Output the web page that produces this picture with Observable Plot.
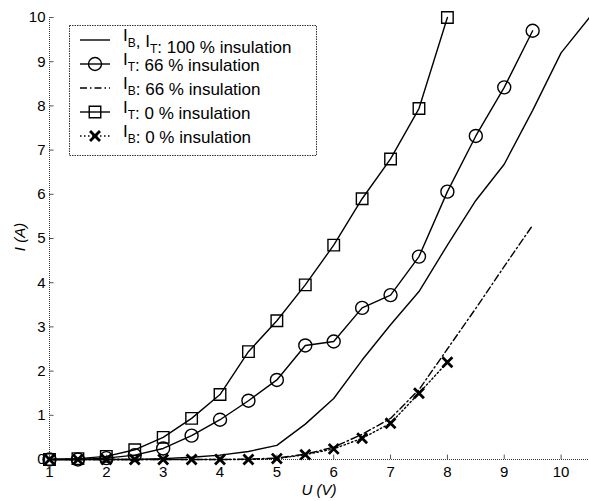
<!DOCTYPE html>
<html><head><meta charset="utf-8">
<script src="https://cdn.jsdelivr.net/npm/d3@7"></script>
<script src="https://cdn.jsdelivr.net/npm/@observablehq/plot@0.6"></script>
<style>
body{margin:0;background:#fff;}
#chart{width:589px;height:501px;}
svg{font-family:"Liberation Sans",Arial,Helvetica,sans-serif;}
</style></head><body><div id="chart"></div>
<script>
// ---- data ----
const u100 = [1,1.5,2,2.5,3,3.5,4,4.5,5,5.5,6,6.5,7,7.5,8,8.5,9,9.5,10,10.5];
const iBT100 = [0,0,0,0,0.02,0.05,0.1,0.18,0.32,0.8,1.38,2.25,3.05,3.8,4.85,5.86,6.68,7.9,9.2,10.0];
const u66 = [1,1.5,2,2.5,3,3.5,4,4.5,5,5.5,6,6.5,7,7.5,8,8.5,9,9.5];
const iT66 = [0,0,0.03,0.1,0.25,0.54,0.9,1.33,1.8,2.58,2.67,3.43,3.72,4.59,6.06,7.32,8.42,9.7];
const iB66 = [0,0,0,0,0,0,0,0.01,0.03,0.12,0.28,0.57,0.93,1.58,2.5,3.42,4.37,5.3];
const u0 = [1,1.5,2,2.5,3,3.5,4,4.5,5,5.5,6,6.5,7,7.5,8];
const iT0 = [0,0.02,0.07,0.22,0.5,0.93,1.47,2.44,3.14,3.95,4.85,5.9,6.8,7.94,10.0];
const iB0 = [0,0,0,0,0,0,0,0,0.02,0.11,0.24,0.48,0.82,1.5,2.2];
const xTicks = [1,2,3,4,5,6,7,8,9,10];
const yTicks = [0,1,2,3,4,5,6,7,8,9,10];
const xLabel = "U (V)";
const yLabel = "I (A)";
const legendItems = [
  {parts:[["I","B"],[", I","T"]], rest:": 100 % insulation", kind:"solid"},
  {parts:[["I","T"]], rest:": 66 % insulation", kind:"circle"},
  {parts:[["I","B"]], rest:": 66 % insulation", kind:"dashdot"},
  {parts:[["I","T"]], rest:": 0 % insulation", kind:"square"},
  {parts:[["I","B"]], rest:": 0 % insulation", kind:"times"}
];

const rows = (u, v) => u.map((x, k) => ({u: x, i: v[k]}));
const d100 = rows(u100, iBT100), dT66 = rows(u66, iT66), dB66 = rows(u66, iB66),
      dT0 = rows(u0, iT0), dB0 = rows(u0, iB0);

const R = 6.5, RX = 4.6;
const DASHDOT = "7,3,1.5,3", DOT = "1.5,2.5";
const plot = Plot.plot({
  width: 589, height: 501,
  marginLeft: 49, marginRight: 0, marginTop: 17, marginBottom: 42,
  style: {fontFamily: '"Liberation Sans",Arial,Helvetica,sans-serif', fontSize: "15px", color: "#000", background: "#fff", overflow: "visible"},
  x: {domain: [1, 10.5]},
  y: {domain: [0, 10]},
  marks: [
    Plot.ruleX([1], {stroke: "#333", strokeDasharray: "1,1"}),
    Plot.ruleY([0], {stroke: "#333", strokeDasharray: "1,1"}),
    Plot.ruleX(xTicks, {x: d => d, y1: 0, y2: 0.1, stroke: "#555"}),
    Plot.ruleY(yTicks, {y: d => d, x1: 1, x2: 1.08, stroke: "#555"}),
    Plot.axisX(xTicks, {tickSize: 0, tickPadding: 7, label: null, tickFormat: d => String(d)}),
    Plot.axisY(yTicks, {tickSize: 0, tickPadding: 4, label: null, tickFormat: d => String(d)}),
    Plot.line(d100, {x: "u", y: "i", stroke: "#000", strokeWidth: 1.4}),
    Plot.line(dB66, {x: "u", y: "i", stroke: "#000", strokeWidth: 1.4, strokeDasharray: DASHDOT}),
    Plot.line(dB0, {x: "u", y: "i", stroke: "#000", strokeWidth: 1.4, strokeDasharray: DOT}),
    Plot.line(dT66, {x: "u", y: "i", stroke: "#000", strokeWidth: 1.4}),
    Plot.line(dT0, {x: "u", y: "i", stroke: "#000", strokeWidth: 1.4}),
    Plot.dot(dT66, {x: "u", y: "i", r: R, symbol: "circle", stroke: "#000", strokeWidth: 1.4, fill: "none"}),
    Plot.dot(dT0, {x: "u", y: "i", r: R, symbol: "square", stroke: "#000", strokeWidth: 1.4, fill: "none"}),
    Plot.dot(dB0, {x: "u", y: "i", r: RX, symbol: "times", stroke: "#000", strokeWidth: 2.8})
  ]
});
document.getElementById("chart").appendChild(plot);

const svg = d3.select(plot);
// axis labels
svg.append("text").attr("x", 319).attr("y", 495).attr("text-anchor", "middle")
  .attr("font-style", "italic").attr("font-size", 15).text(xLabel);
svg.append("text").attr("transform", "translate(25,237) rotate(-90)").attr("text-anchor", "middle")
  .attr("font-style", "italic").attr("font-size", 15).text(yLabel);

// legend
const lg = svg.append("g").attr("text-anchor", "start");
lg.append("rect").attr("x", 69.5).attr("y", 25.5).attr("width", 247).attr("height", 130)
  .attr("fill", "#fff").attr("stroke", "#333").attr("stroke-dasharray", "1.5,1");
const rowY = [41, 65, 89, 113, 137];
legendItems.forEach((it, k) => {
  const y = rowY[k];
  const ly = y - 1;
  const line = lg.append("line").attr("x1", 80).attr("x2", 110).attr("y1", ly).attr("y2", ly)
    .attr("stroke", "#000").attr("stroke-width", 1.4);
  if (it.kind === "dashdot") line.attr("stroke-dasharray", DASHDOT);
  if (it.kind === "times") line.attr("stroke-dasharray", DOT);
  if (it.kind === "circle" || it.kind === "square" || it.kind === "times") {
    const t = it.kind === "circle" ? d3.symbolCircle : it.kind === "square" ? d3.symbolSquare : d3.symbolTimes;
    const rr = it.kind === "times" ? RX : R;
    lg.append("path").attr("d", d3.symbol(t, Math.PI * rr * rr)()).attr("transform", `translate(95,${ly})`)
      .attr("fill", "none").attr("stroke", "#000").attr("stroke-width", it.kind === "times" ? 2.8 : 1.4);
  }
  const tx = lg.append("text").attr("x", 123).attr("y", y).attr("font-size", 17).attr("text-anchor", "start");
  it.parts.forEach(([main, sub]) => {
    tx.append("tspan").text(main);
    tx.append("tspan").attr("dy", 6).attr("font-size", 12).text(sub);
    tx.append("tspan").attr("dy", -6).text("");
  });
  tx.append("tspan").text(it.rest);
});
</script></body></html>
